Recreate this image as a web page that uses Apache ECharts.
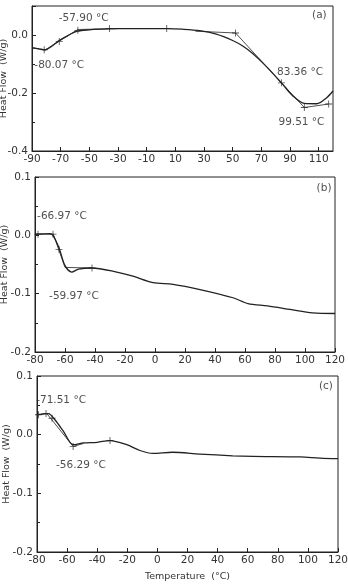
<!DOCTYPE html>
<html><head><meta charset="utf-8">
<script src="https://cdn.jsdelivr.net/npm/echarts@6/dist/echarts.min.js"></script>
<style>html,body{margin:0;background:#fff}#main{width:348px;height:584px}</style>
</head><body><div id="main"></div>
<script>
// panel (a)
const tempA = [-90, -85, -81, -76, -71.6, -65, -58.3, -50, -43, -30, 4, 15, 27, 38.6, 50, 57, 64, 73.6, 84, 92, 100, 108.6, 115.6, 120];
const flowA = [-0.044, -0.048, -0.051, -0.038, -0.021, -0.002, 0.013, 0.018, 0.020, 0.022, 0.022, 0.020, 0.015, 0.003, -0.019, -0.038, -0.064, -0.109, -0.165, -0.21, -0.236, -0.237, -0.216, -0.193];
const tanA = [[-90, -0.044], [-81, -0.052], [-58, 0.019], [-30, 0.022]];
const tanA2 = [[24, 0.013], [52, 0.007], [84, -0.165], [100, -0.25], [117, -0.238]];
const markA = [[-81.5, -0.051], [-71, -0.022], [-58, 0.016], [-36, 0.022], [4, 0.022], [52, 0.007], [84, -0.165], [100, -0.25], [117, -0.238]];
const noteA = [[-54, 0.059, '-57.90 °C'], [-71, -0.103, '-80.07 °C'], [97, -0.128, '83.36 °C'], [98, -0.30, '99.51 °C'], [110.5, 0.069, '(a)']];

// panel (b)
const tempB = [-80, -70, -67.8, -63.8, -60, -55.5, -51, -42, -25.5, -14.7, -1.3, 12, 30, 52, 62, 75, 90, 105, 120];
const flowB = [0.002, 0.003, -0.001, -0.023, -0.052, -0.063, -0.058, -0.056, -0.063, -0.07, -0.081, -0.084, -0.093, -0.107, -0.117, -0.121, -0.127, -0.133, -0.134];
const tanB = [[-80, 0.002], [-67.8, 0.002], [-60, -0.055], [-42, -0.056]];
const markB = [[-78, 0.002], [-68, 0.002], [-64, -0.024], [-42, -0.056]];
const noteB = [[-62, 0.033, '-66.97 °C'], [-54, -0.104, '-59.97 °C'], [112.7, 0.081, '(b)']];

// panel (c)
const tempC = [-80, -72.5, -68, -62.5, -56, -49, -40, -31.5, -20.4, -11.6, -3, 10, 28, 50, 63.5, 95, 108, 120];
const flowC = [0.034, 0.036, 0.025, 0.006, -0.017, -0.014, -0.013, -0.010, -0.017, -0.027, -0.032, -0.030, -0.033, -0.036, -0.037, -0.038, -0.040, -0.041];
const tanC = [[-80, 0.034], [-73.5, 0.036], [-56, -0.020], [-49, -0.015]];
const markC = [[-79, 0.034], [-74, 0.036], [-70, 0.028], [-56, -0.020], [-31.5, -0.010]];
const noteC = [[-64, 0.059, '-71.51 °C'], [-50.8, -0.052, '-56.29 °C'], [112, 0.082, '(c)']];

const ink = '#222';
const font = 'DejaVu Sans';
const plus = 'path://M4.4,0H5.6V4.4H10V5.6H5.6V10H4.4V5.6H0V4.4H4.4Z';
const zip = (xs, ys) => xs.map((x, i) => [x, ys[i]]);

function xAx(i, min, max, extra) {
  return Object.assign({
    type: 'value', gridIndex: i, min: min, max: max, interval: 20,
    axisLine: { show: true, onZero: false, lineStyle: { color: ink } },
    axisTick: { inside: true, length: 4, lineStyle: { color: ink } },
    axisLabel: { color: '#333', fontFamily: font, fontSize: 10.5, margin: 3 },
    splitLine: { show: false }
  }, extra || {});
}
function yAx(i, min, max, interval, showMax, gap) {
  return {
    type: 'value', gridIndex: i, min: min, max: max, interval: interval,
    name: 'Heat Flow  (W/g)', nameLocation: 'middle', nameGap: gap, nameMoveOverlap: false,
    nameTextStyle: { color: '#333', fontFamily: font, fontSize: 9.5 },
    axisLine: { show: true, onZero: false, lineStyle: { color: ink } },
    axisTick: { inside: true, length: 4, lineStyle: { color: ink } },
    minorTick: { show: true, splitNumber: 2, length: 3, lineStyle: { color: ink } },
    axisLabel: { color: '#333', fontFamily: font, fontSize: 10.5, margin: 4, showMaxLabel: showMax,
      formatter: v => v.toFixed(1) },
    splitLine: { show: false }
  };
}
function curve(i, data) {
  return { type: 'line', xAxisIndex: i, yAxisIndex: i, data: data, showSymbol: false, smooth: 0.3,
    lineStyle: { color: ink, width: 1.3 }, silent: true };
}
function tangent(i, data) {
  return { type: 'line', xAxisIndex: i, yAxisIndex: i, data: data, showSymbol: false,
    lineStyle: { color: ink, width: 0.8 }, silent: true };
}
function marks(i, data) {
  return { type: 'scatter', xAxisIndex: i, yAxisIndex: i, data: data, symbol: plus, symbolSize: 7,
    itemStyle: { color: ink }, silent: true };
}
function notes(i, data) {
  return { type: 'scatter', xAxisIndex: i, yAxisIndex: i, symbolSize: 0, silent: true,
    data: data.map(d => ({ value: [d[0], d[1]], name: d[2] })),
    label: { show: true, position: 'inside', formatter: p => p.name, color: '#222', fontFamily: font, fontSize: 10.5 } };
}

const box = { show: true, borderColor: ink, borderWidth: 1, outerBoundsMode: 'none', containLabel: false };
const chart = echarts.init(document.getElementById('main'));
chart.setOption({
  animation: false,
  grid: [
    Object.assign({ left: 32, top: 6, width: 301, height: 145 }, box),
    Object.assign({ left: 35, top: 177, width: 300, height: 175 }, box),
    Object.assign({ left: 37, top: 376, width: 301, height: 176 }, box)
  ],
  xAxis: [
    xAx(0, -90, 120, { axisLabel: { color: '#333', fontFamily: font, fontSize: 10.5, margin: 3, showMaxLabel: false } }),
    xAx(1, -80, 120),
    xAx(2, -80, 120, { name: 'Temperature  (°C)', nameLocation: 'middle', nameGap: 20, nameMoveOverlap: false,
      nameTextStyle: { color: '#333', fontFamily: font, fontSize: 9.5 } })
  ],
  yAxis: [
    yAx(0, -0.4, 0.1, 0.2, false, 23),
    yAx(1, -0.2, 0.1, 0.1, true, 25),
    yAx(2, -0.2, 0.1, 0.1, true, 25)
  ],
  series: [
    curve(0, zip(tempA, flowA)), tangent(0, tanA), tangent(0, tanA2), marks(0, markA), notes(0, noteA),
    curve(1, zip(tempB, flowB)), tangent(1, tanB), marks(1, markB), notes(1, noteB),
    curve(2, zip(tempC, flowC)), tangent(2, tanC), marks(2, markC), notes(2, noteC)
  ]
});
</script>
</body></html>
